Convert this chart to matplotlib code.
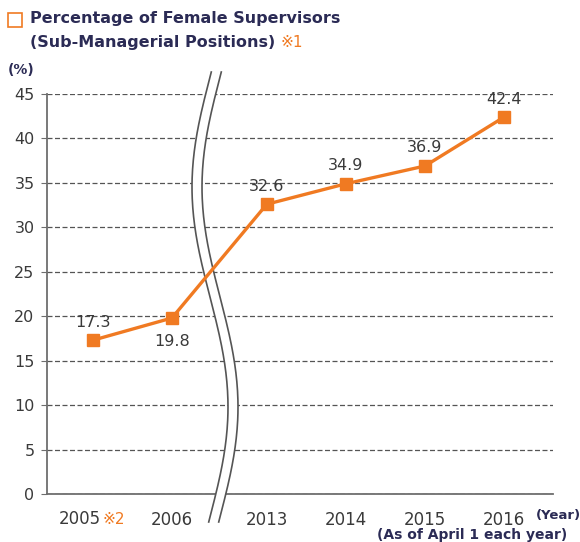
import numpy as np
import matplotlib.pyplot as plt
from matplotlib.patches import Polygon, Rectangle

years = ['2005', '2006', '2013', '2014', '2015', '2016']
values = [17.3, 19.8, 32.6, 34.9, 36.9, 42.4]
label_above = [True, False, True, True, True, True]
yticks = [0, 5, 10, 15, 20, 25, 30, 35, 40, 45]

orange = '#f07a22'
navy = '#2b2b55'
gray = '#6e6e6e'
text_c = '#3a3a3a'

xpos = [0, 1, 2.2, 3.2, 4.2, 5.2]

fig = plt.figure(figsize=(5.8, 5.42), dpi=100)
ax = fig.add_axes([47 / 580, 1 - 494 / 542, (553 - 47) / 580, (494 - 94) / 542])

ax.set_xlim(-0.58, 5.82)
ax.set_ylim(0, 45)
ax.set_yticks(yticks)
ax.yaxis.grid(True, linestyle=(0, (4, 2)), color='#555555', linewidth=0.9)
ax.set_axisbelow(True)
ax.spines['top'].set_visible(False)
ax.spines['right'].set_visible(False)
ax.spines['left'].set_color(gray)
ax.spines['bottom'].set_color(gray)
ax.spines['left'].set_linewidth(1.3)
ax.spines['bottom'].set_linewidth(1.3)
ax.tick_params(axis='y', length=4, color=gray, labelsize=11.5, labelcolor=text_c, pad=5)
ax.tick_params(axis='x', length=0, labelsize=12, labelcolor=text_c, pad=12)
ax.set_xticks(xpos)
ax.set_xticklabels([''] + years[1:])

ax.plot(xpos, values, color=orange, linewidth=2.4, marker='s', markersize=9, zorder=5, clip_on=False)

for x, v, up in zip(xpos, values, label_above):
    off = 13 if up else -17
    ax.annotate(f'{v}', (x, v), xytext=(0, off), textcoords='offset points',
                ha='center', va='center', fontsize=11.5, color=text_c, zorder=6)

# wavy axis break (figure pixel coordinates)
yy = np.linspace(72, 522, 200)
xx = 215 - 18 * np.sin(2 * np.pi * (yy - 77) / 440)
gap = 10
left = np.column_stack([(xx - gap / 2) / 580, 1 - yy / 542])
right = np.column_stack([(xx + gap / 2) / 580, 1 - yy / 542])
poly = Polygon(np.vstack([left, right[::-1]]), closed=True, facecolor='white',
               edgecolor='none', transform=fig.transFigure, clip_on=False, zorder=3)
ax.add_patch(poly)
for side in (left, right):
    ax.plot(side[:, 0], side[:, 1], color='#555555', linewidth=1.2,
            transform=fig.transFigure, clip_on=False, zorder=4)

# title
fig.patches.append(Rectangle((8 / 580, 1 - 27 / 542), 14 / 580, 14 / 542, fill=False,
                             edgecolor=orange, linewidth=1.2, transform=fig.transFigure))
fig.text(30 / 580, 1 - 19 / 542, 'Percentage of Female Supervisors', fontsize=11.5,
         color=navy, va='center', ha='left', fontweight='bold')
fig.text(30 / 580, 1 - 42 / 542, '(Sub-Managerial Positions)', fontsize=11.5,
         color=navy, va='center', ha='left', fontweight='bold')
fig.text(281 / 580, 1 - 42 / 542, '※1', fontsize=11, color=orange, va='center', ha='left')

fig.text(8 / 580, 1 - 70 / 542, '(%)', fontsize=10, color=navy, va='center', ha='left',
         fontweight='bold')
fig.text(101 / 580, 1 - 519 / 542, '2005', fontsize=12, color=text_c, va='center', ha='right')
fig.text(102 / 580, 1 - 519 / 542, '※2', fontsize=11, color=orange, va='center', ha='left')
fig.text(536 / 580, 1 - 515 / 542, '(Year)', fontsize=9.5, color=navy, va='center', ha='left',
         fontweight='bold')
fig.text(567 / 580, 1 - 535 / 542, '(As of April 1 each year)', fontsize=10, color=navy,
         va='center', ha='right', fontweight='bold')

fig.savefig('out.png', dpi=100)
